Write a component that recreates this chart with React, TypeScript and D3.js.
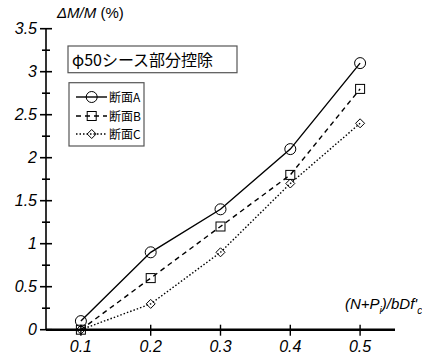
import React from 'react';
import * as d3 from 'd3';

// values
const xValues = [0.1, 0.2, 0.3, 0.4, 0.5];
const seriesA = [0.1, 0.9, 1.4, 2.1, 3.1];
const seriesB = [0.0, 0.6, 1.2, 1.8, 2.8];
const seriesC = [0.0, 0.3, 0.9, 1.7, 2.4];
const seriesNames = ['断面A', '断面B', '断面C'];
const xTicks = [0.1, 0.2, 0.3, 0.4, 0.5];
const yMajor = [0, 0.5, 1, 1.5, 2, 2.5, 3, 3.5];
const yMinor = [0.25, 0.75, 1.25, 1.75, 2.25, 2.75, 3.25];
const noteText = 'φ50シース部分控除';

const width = 422;
const height = 356;
const font = '"Liberation Sans", Arial, sans-serif';

const x = d3.scaleLinear().domain([0.05, 0.55]).range([46, 395]);
const y = d3.scaleLinear().domain([0, 3.5]).range([329.7, 28.7]);

const line = d3.line<number>()
  .x((_, i) => x(xValues[i]))
  .y(d => y(d));

const styles = [
  { dash: undefined, width: 1.4 },
  { dash: '5,4', width: 1.4 },
  { dash: '1.5,2', width: 1.4 },
];

const Marker = ({ kind, cx, cy }: { kind: number; cx: number; cy: number }) => {
  if (kind === 0) {
    return <circle cx={cx} cy={cy} r={5.5} fill="none" stroke="#000" strokeWidth={1} />;
  }
  if (kind === 1) {
    return <rect x={cx - 4.5} y={cy - 4.5} width={9} height={9} fill="none" stroke="#000" strokeWidth={1} />;
  }
  const s = 4.5;
  return (
    <path
      d={`M${cx},${cy - s}L${cx + s},${cy}L${cx},${cy + s}L${cx - s},${cy}Z`}
      fill="none"
      stroke="#000"
      strokeWidth={1}
    />
  );
};

export default function App() {
  const all = [seriesA, seriesB, seriesC];
  const legendRows = [97, 116, 134];

  return (
    <svg
      width={width}
      height={height}
      style={{ position: 'absolute', left: 0, top: 0, background: '#fff' }}
      fontFamily={font}
    >
      <rect width={width} height={height} fill="#fff" />

      {/* y axis */}
      <line x1={x(0.05)} x2={x(0.05)} y1={y(3.5)} y2={y(0)} stroke="#000" strokeWidth={1.6} />
      {yMajor.map(v => (
        <g key={'ym' + v}>
          <line x1={40} x2={52} y1={y(v)} y2={y(v)} stroke="#000" strokeWidth={1.6} />
          <text
            x={37}
            y={y(v)}
            dy="0.36em"
            textAnchor="end"
            fontSize={16}
            fontStyle="italic"
          >
            {d3.format('')(v)}
          </text>
        </g>
      ))}
      {yMinor.map(v => (
        <line key={'yn' + v} x1={42} x2={50} y1={y(v)} y2={y(v)} stroke="#000" strokeWidth={1.6} />
      ))}

      {/* x axis */}
      <line x1={x(0.05)} x2={x(0.55)} y1={y(0)} y2={y(0)} stroke="#000" strokeWidth={2.6} />
      {xTicks.map(v => (
        <g key={'x' + v}>
          <line x1={x(v)} x2={x(v)} y1={y(0) - 5} y2={y(0) + 6} stroke="#000" strokeWidth={1.4} />
          <text x={x(v)} y={352} textAnchor="middle" fontSize={16} fontStyle="italic">
            {d3.format('.1f')(v)}
          </text>
        </g>
      ))}

      {/* axis titles */}
      <text x={57} y={17.5} fontSize={15}>
        <tspan fontStyle="italic">ΔM/M</tspan>
        <tspan> (%)</tspan>
      </text>
      <text x={345} y={309} fontSize={15} fontStyle="italic">
        <tspan>(N+P</tspan>
        <tspan fontSize={10} dy={5}>i</tspan>
        <tspan dy={-5}>)/bDf'</tspan>
        <tspan fontSize={10} dy={5}>c</tspan>
      </text>

      {/* series */}
      {all.map((s, k) => (
        <g key={'s' + k}>
          <path
            d={line(s) ?? ''}
            fill="none"
            stroke="#000"
            strokeWidth={styles[k].width}
            strokeDasharray={styles[k].dash}
          />
          {s.map((v, i) => (
            <Marker key={i} kind={k} cx={x(xValues[i])} cy={y(v)} />
          ))}
        </g>
      ))}

      {/* note box */}
      <rect x={68} y={46} width={169} height={26.7} fill="#fff" stroke="#555" strokeWidth={1.2} />
      <text x={72} y={65.5} fontSize={16} fontFamily={'"Noto Sans CJK JP", ' + font}>
        {noteText}
      </text>

      {/* legend */}
      <rect x={69} y={82.7} width={75} height={63.3} fill="#fff" stroke="#555" strokeWidth={1.2} />
      {seriesNames.map((name, k) => (
        <g key={name}>
          <line
            x1={76}
            x2={107}
            y1={legendRows[k]}
            y2={legendRows[k]}
            stroke="#000"
            strokeWidth={styles[k].width}
            strokeDasharray={styles[k].dash}
          />
          <Marker kind={k} cx={91.7} cy={legendRows[k]} />
          <text
            x={109}
            y={legendRows[k]}
            dy="0.38em"
            fontSize={12}
            fontFamily={'"Noto Sans CJK JP", ' + font}
          >
            {name}
          </text>
        </g>
      ))}
    </svg>
  );
}
